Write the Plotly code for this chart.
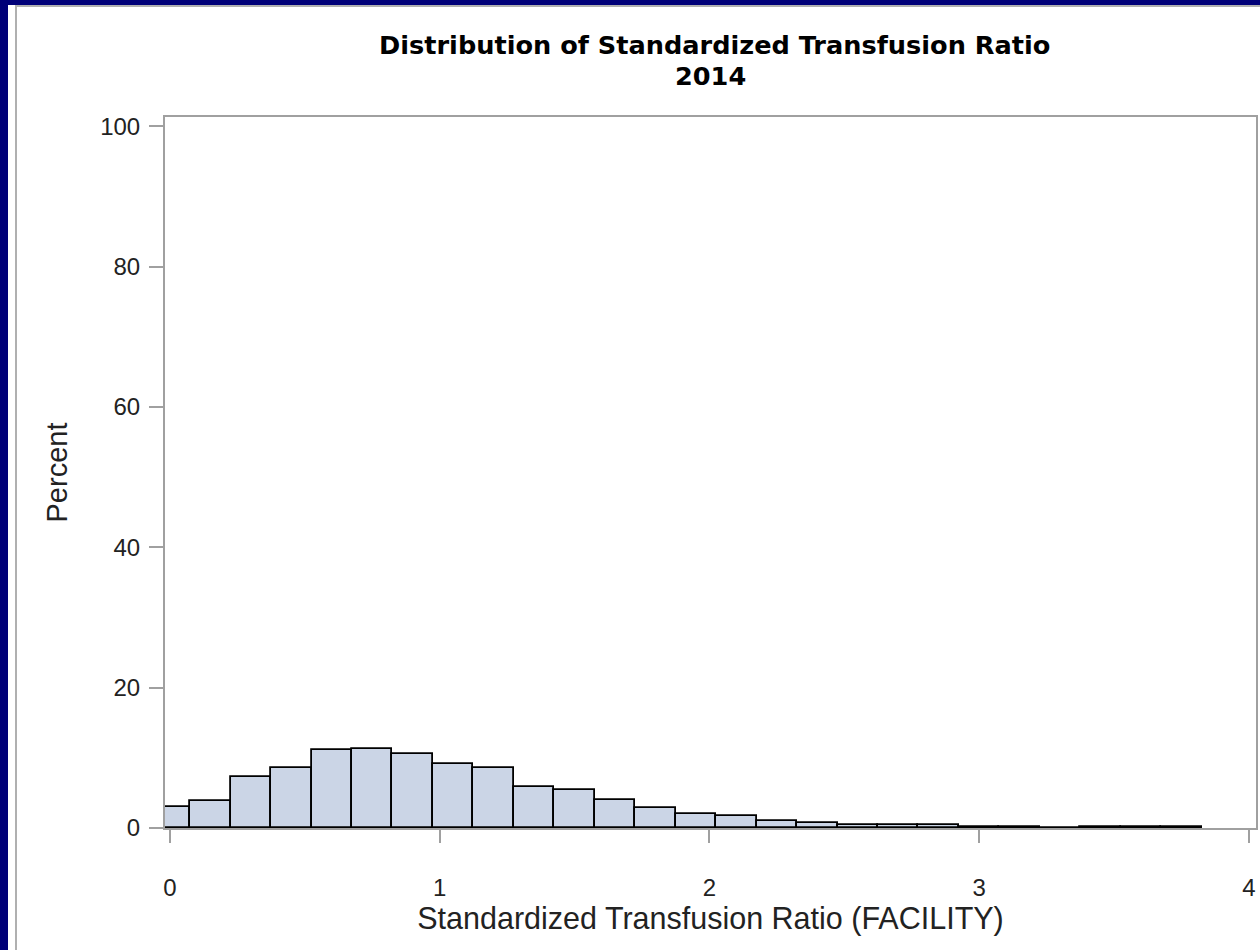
import plotly.graph_objects as go

# Histogram bins (midpoints, width 0.15) and percent per bin
bin_mid = [0.00, 0.15, 0.30, 0.45, 0.60, 0.75, 0.90, 1.05, 1.20, 1.35,
           1.50, 1.65, 1.80, 1.95, 2.10, 2.25, 2.40, 2.55, 2.70, 2.85,
           3.00, 3.15, 3.30, 3.45, 3.60, 3.75]
percent = [2.95, 3.9, 7.3, 8.55, 11.05, 11.3, 10.55, 9.05, 8.55, 5.9,
           5.35, 3.95, 2.9, 1.95, 1.65, 1.0, 0.7, 0.45, 0.4, 0.4,
           0.15, 0.15, 0.0, 0.15, 0.15, 0.15]
bin_width = 0.15

x_ticks = [0, 1, 2, 3, 4]
y_ticks = [0, 20, 40, 60, 80, 100]

title_line1 = "Distribution of Standardized Transfusion Ratio"
title_line2 = "2014"
x_title = "Standardized Transfusion Ratio (FACILITY)"
y_title = "Percent"

W, H = 1260, 950
ML, MR, MT, MB = 165, 4, 117, 122
PW, PH = W - ML - MR, H - MT - MB
X_RANGE = [-0.0185, 4.0267]


def px_x(p):
    return (p - ML) / PW


def px_y(p):
    return 1 - (p - MT) / PH


fig = go.Figure()
fig.add_trace(go.Bar(
    x=bin_mid, y=percent, width=[bin_width] * len(bin_mid),
    marker=dict(color="#cbd5e6", line=dict(color="#000000", width=1.8)),
    showlegend=False, hoverinfo="x+y",
))
# invisible helper trace so the overlay axis (visible tick marks) is drawn
fig.add_trace(go.Scatter(x=[X_RANGE[0]], y=[0], xaxis="x2", mode="markers",
                         marker=dict(opacity=0), showlegend=False,
                         hoverinfo="skip"))

tick_font = dict(family="Liberation Sans, Arial, sans-serif", size=24, color="#222222")
ytitle_font = dict(family="Liberation Sans, Arial, sans-serif", size=29, color="#222222")
xtitle_font = dict(family="Liberation Sans, Arial, sans-serif", size=30.5, color="#222222")
head_font = dict(family="DejaVu Sans, Verdana, sans-serif", size=25.6,
                 color="#000000", weight="bold")

fig.update_layout(
    width=W, height=H,
    margin=dict(l=ML, r=MR, t=MT, b=MB),
    paper_bgcolor="white", plot_bgcolor="white",
    bargap=0,
    # labelled axis: long transparent ticks push the labels down
    xaxis=dict(range=X_RANGE, tickvals=x_ticks, ticks="outside",
               ticklen=37, tickwidth=1, tickcolor="rgba(0,0,0,0)",
               showline=True, linecolor="#a0a0a0", linewidth=2, mirror=True,
               showgrid=False, zeroline=False, tickfont=tick_font,
               automargin=False,
               title=dict(text=x_title, font=xtitle_font, standoff=0)),
    # overlay axis: visible short gray tick marks, no labels
    xaxis2=dict(range=X_RANGE, overlaying="x", anchor="y", side="bottom",
                tickvals=x_ticks, ticks="outside", ticklen=14, tickwidth=2,
                tickcolor="#a0a0a0", showticklabels=False, showline=False,
                showgrid=False, zeroline=False),
    yaxis=dict(range=[0, 101.3], tickvals=y_ticks, ticks="outside",
               ticklen=14, tickwidth=2, tickcolor="#a0a0a0",
               showline=True, linecolor="#a0a0a0", linewidth=2, mirror=True,
               showgrid=False, zeroline=False, tickfont=tick_font,
               ticklabelstandoff=4, automargin=False,
               title=dict(text=y_title, font=ytitle_font, standoff=24)),
    annotations=[
        dict(text=title_line1, xref="paper", yref="paper",
             x=px_x(714), y=px_y(45), xanchor="center", yanchor="middle",
             showarrow=False, font=head_font),
        dict(text=title_line2, xref="paper", yref="paper",
             x=px_x(710), y=px_y(76), xanchor="center", yanchor="middle",
             showarrow=False, font=head_font),
    ],
    shapes=[
        # navy frame (left and top)
        dict(type="rect", xref="paper", yref="paper",
             x0=px_x(-2), x1=px_x(8), y0=px_y(H + 2), y1=px_y(-2),
             fillcolor="#000078", line=dict(width=0), layer="above"),
        dict(type="rect", xref="paper", yref="paper",
             x0=px_x(-2), x1=px_x(W + 2), y0=px_y(5), y1=px_y(-2),
             fillcolor="#000078", line=dict(width=0), layer="above"),
        # thin gray inner frame lines
        dict(type="line", xref="paper", yref="paper",
             x0=px_x(16), x1=px_x(16), y0=px_y(H + 2), y1=px_y(5),
             line=dict(color="#b0b0b0", width=2)),
        dict(type="line", xref="paper", yref="paper",
             x0=px_x(16), x1=px_x(W + 2), y0=px_y(6), y1=px_y(6),
             line=dict(color="#b0b0b0", width=2)),
    ],
)

fig.write_html("out.html", config={"displayModeBar": False},
               post_script="document.body.style.margin='0';"
                           "document.body.style.overflow='hidden';")
